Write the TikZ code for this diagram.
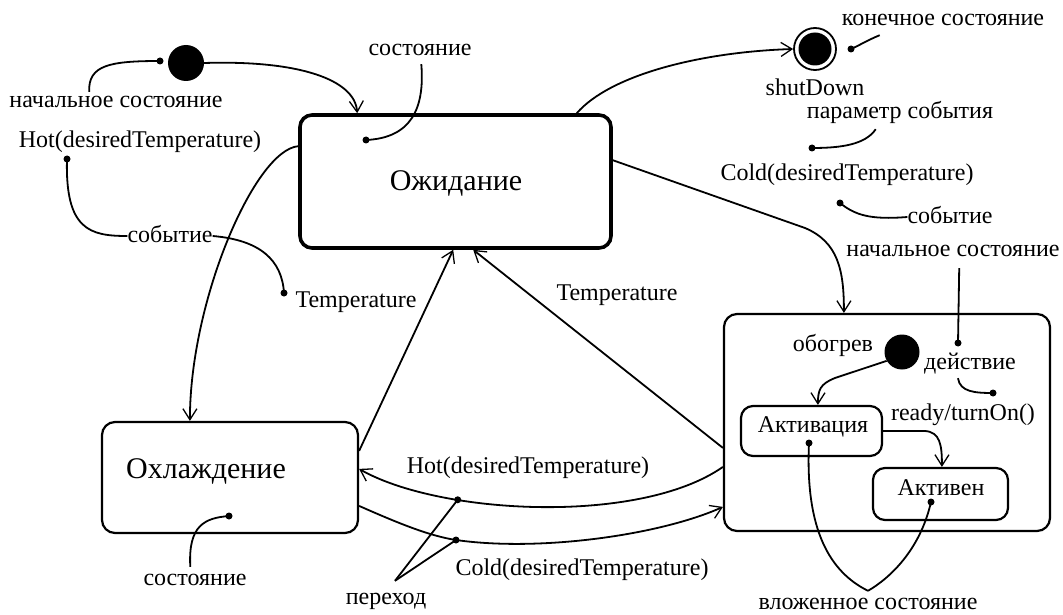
\documentclass[tikz,border=0pt]{standalone}
\usepackage{fontspec}
\setmainfont{Liberation Serif}
\usetikzlibrary{arrows.meta,calc}
\begin{document}
\begin{tikzpicture}[x=1pt,y=-1pt,
  lbl/.style={font=\fontsize{24}{26}\selectfont, inner sep=0pt, text height=17pt, text depth=5pt},
  big/.style={font=\fontsize{30}{32}\selectfont, inner sep=0pt, text height=21pt, text depth=6pt},
  conn/.style={line width=1.8pt},
  arr/.style={conn, -{Straight Barb[length=11pt,width=14pt,line width=1.3pt]}},
  pin/.style={circle, fill, inner sep=0pt, minimum size=7pt},
  statebox/.style={draw, line width=2.2pt, rounded corners=13pt, inner sep=0pt},
  blob/.style={circle, fill, inner sep=0pt},
]
\fill[white] (0,0) rectangle (1063,615);
\useasboundingbox (0,0) rectangle (1063,615);

% states
\node[statebox, line width=3.6pt, rounded corners=12pt, minimum width=311pt, minimum height=133pt] (wait) at (455.5,181.5) {};
\node[big] (waitT) at (456,183) {Ожидание};
\node[statebox, minimum width=256pt, minimum height=111pt] (cool) at (230,477.5) {};
\node[big] (coolT) at (206,471) {Охлаждение};
\node[statebox, minimum width=326pt, minimum height=217pt] (heat) at (887,422.5) {};
\node[statebox, rounded corners=12pt, minimum width=141pt, minimum height=50pt] (act) at (811.5,431) {};
\node[lbl] (actT) at (813,426) {Активация};
\node[statebox, rounded corners=12pt, minimum width=135pt, minimum height=52pt] (actv) at (940.5,494) {};
\node[lbl] (actvT) at (941,489) {Активен};

% pseudo states
\node[blob, minimum size=36pt] (init) at (186,63) {};
\node[circle, draw, line width=1.8pt, minimum size=42pt, inner sep=0pt] (fin) at (815,49) {};
\node[blob, minimum size=33pt] (finIn) at (815,49) {};
\node[blob, minimum size=35pt] (iinit) at (902,352) {};

% labels
\node[lbl] (lInitL) at (116,102) {начальное состояние};
\node[lbl] (lHotL) at (140,142) {Hot(desiredTemperature)};
\node[lbl] (lEv1) at (170,236) {событие};
\node[lbl] (lTemp1) at (356,301) {Temperature};
\node[lbl] (lState1) at (420,50) {состояние};
\node[lbl] (lState2) at (195,579) {состояние};
\node[lbl] (lTemp2) at (617,294) {Temperature};
\node[lbl] (lHot2) at (528,467) {Hot(desiredTemperature)};
\node[lbl] (lCold2) at (582,569) {Cold(desiredTemperature)};
\node[lbl] (lTrans) at (386,598) {переход};
\node[lbl] (lFin) at (943,20) {конечное состояние};
\node[lbl] (lShut) at (815,90) {shutDown};
\node[lbl] (lParam) at (900,113) {параметр события};
\node[lbl] (lCold1) at (847,174) {Cold(desiredTemperature)};
\node[lbl] (lEv2) at (950,217) {событие};
\node[lbl] (lInitR) at (953,250) {начальное состояние};
\node[lbl] (lHeat) at (833,345) {обогрев};
\node[lbl] (lAct) at (970,363) {действие};
\node[lbl] (lReady) at (963,414) {ready/turnOn()};
\node[lbl] (lNest) at (868,603) {вложенное состояние};

% annotation pins
\node[pin] (p1) at (160,61) {};
\node[pin] (p2) at (366,140) {};
\node[pin] (p3) at (67,159) {};
\node[pin] (p4) at (284,293) {};
\node[pin] (p5) at (229,516) {};
\node[pin] (p6) at (851,49) {};
\node[pin] (p7) at (812,148) {};
\node[pin] (p8) at (840,203) {};
\node[pin] (p9) at (958,343) {};
\node[pin] (p10) at (993,393) {};
\node[pin] (p11) at (809,443) {};
\node[pin] (p12) at (931,502) {};

% transitions
\draw[arr] (init.east) .. controls (300,60) and (355,80) .. ($(wait.north west)+(59,0)$);
\draw[arr] ($(wait.north east)+(-36,0)$) .. controls (610,75) and (700,52) .. (fin.west);
\draw[arr] ($(wait.north west)+(0,33)$) .. controls (255,150) and (190,300) .. ($(cool.north west)+(89,0)$);
\draw[arr] ($(cool.north east)+(0,30)$) -- ($(wait.south west)+(155,0)$);
\draw[arr] ($(heat.north west)+(0,135)$) -- ($(wait.south west)+(175,0)$);
\draw[arr] ($(wait.north east)+(0,47)$) -- (805,228) .. controls (838,242) and (844,270) .. ($(heat.north west)+(121,0)$);
\draw[arr] ($(heat.north west)+(0,154)$) .. controls (640,525) and (440,515) .. coordinate[pos=0.7] (hotpt) ($(cool.north east)+(0,48)$);
\draw[arr] ($(cool.north east)+(0,85)$) .. controls (400,524) and (430,536) .. (456,540) coordinate (coldpt) .. controls (540,552) and (660,535) .. ($(heat.north west)+(0,194)$);
\draw[arr] (iinit.210) -- (835,378) .. controls (820,384) and (818,390) .. ($(act.north west)+(78,0)$);
\draw[arr] (act.east) -- (925,431) .. controls (940,432) and (942,445) .. ($(actv.north west)+(70,0)$);

% annotations
\draw[conn] ($(lInitL.north west)+(80,1)$) .. controls (88,65) and (110,61) .. (p1.center);
\draw[conn] ($(lState1.south west)+(53,3)$) .. controls (425,110) and (410,138) .. (p2.center);
\draw[conn] (p3.center) .. controls (65,230) and (90,236) .. (lEv1.west);
\draw[conn] (lEv1.east) .. controls (260,240) and (282,260) .. (p4.center);
\draw[conn] ($(lState2.north west)+(47,-1)$) .. controls (188,525) and (205,518) .. (p5.center);
\draw[conn] ($(lFin.south west)+(38,4)$) .. controls (868,40) and (860,45) .. (p6.center);
\draw[conn] ($(lParam.south west)+(69,5)$) .. controls (865,145) and (840,148) .. (p7.center);
\draw[conn] (p8.center) .. controls (855,215) and (870,220) .. (lEv2.west);
\draw[conn] ($(lInitR.south west)+(113,7)$) -- (p9.center);
\draw[conn] ($(lAct.south west)+(34,4)$) .. controls (960,392) and (975,393) .. (p10.center);
\draw[conn] (p11.center) .. controls (805,530) and (830,572) .. ($(lNest.north)+(0,-1)$);
\draw[conn] (p12.center) .. controls (920,550) and (890,578) .. ($(lNest.north)+(0,-1)$);
\node[pin] at (hotpt) {};
\node[pin] at (coldpt) {};
\draw[conn] ($(lTrans.north)+(9,-6)$) -- (hotpt);
\draw[conn] ($(lTrans.north)+(9,-6)$) -- (coldpt);
\end{tikzpicture}
\end{document}
